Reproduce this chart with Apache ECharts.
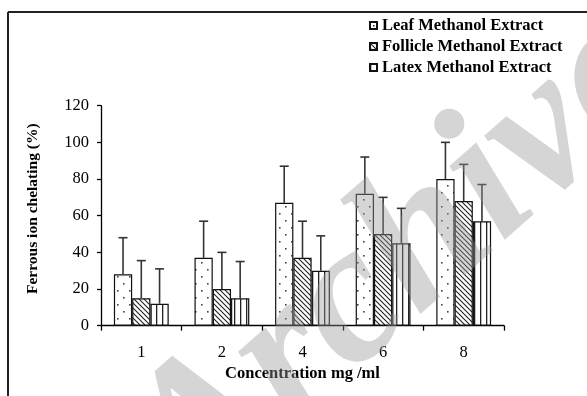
<!DOCTYPE html>
<html><head><meta charset="utf-8">
<script src="https://cdn.jsdelivr.net/npm/echarts@6/dist/echarts.min.js"></script>
<style>html,body{margin:0;padding:0;background:#fff}#c{width:587px;height:396px}</style>
</head><body><div id="c"></div>
<script>
const categories = ['1', '2', '4', '6', '8'];
const seriesNames = ['Leaf Methanol Extract', 'Follicle Methanol Extract', 'Latex Methanol Extract'];
const leafValues = [28, 37, 67, 72, 80];
const follicleValues = [15, 20, 37, 50, 68];
const latexValues = [12, 15, 30, 45, 57];
const leafErrors = [20, 20, 20, 20, 20];
const follicleErrors = [20.5, 20, 20, 20, 20];
const latexErrors = [19, 20, 19, 19, 20];
const yTicks = [0, 20, 40, 60, 80, 100, 120];
const watermarkText = 'Archive';

const FONT = '"Liberation Serif", "Times New Roman", serif';
const CAT_GAP = 0.32;

function makePattern(kind) {
  const c = document.createElement('canvas');
  const ctx = c.getContext('2d');
  if (kind === 'dots') {
    c.width = 12; c.height = 14;
    ctx.fillStyle = '#fff'; ctx.fillRect(0, 0, 12, 14);
    ctx.fillStyle = '#444';
    ctx.fillRect(3, 3, 1.6, 1.6);
    ctx.fillRect(9, 10, 1.6, 1.6);
  } else if (kind === 'hatch') {
    c.width = 5; c.height = 5;
    ctx.fillStyle = '#fff'; ctx.fillRect(0, 0, 5, 5);
    ctx.strokeStyle = '#222'; ctx.lineWidth = 1.1;
    ctx.beginPath();
    ctx.moveTo(-1, -1); ctx.lineTo(6, 6);
    ctx.moveTo(-1, 4); ctx.lineTo(1, 6);
    ctx.moveTo(4, -1); ctx.lineTo(6, 1);
    ctx.stroke();
  } else {
    c.width = 6; c.height = 4;
    ctx.fillStyle = '#fff'; ctx.fillRect(0, 0, 6, 4);
    ctx.fillStyle = '#222'; ctx.fillRect(0, 0, 1.3, 4);
  }
  return { image: c, repeat: 'repeat' };
}

const patterns = [makePattern('dots'), makePattern('hatch'), makePattern('vlines')];
const values = [leafValues, follicleValues, latexValues];
const errors = [leafErrors, follicleErrors, latexErrors];

const barSeries = seriesNames.map((name, k) => ({
  name: name,
  type: 'bar',
  data: values[k],
  barGap: '0%',
  barCategoryGap: (CAT_GAP * 100) + '%',
  itemStyle: { color: patterns[k], borderColor: '#111', borderWidth: 1.2 },
  emphasis: { disabled: true },
  z: 2
}));

const errSeries = seriesNames.map((name, k) => ({
  type: 'custom',
  name: name + ' error',
  data: values[k].map((v, i) => [i, v, v + errors[k][i]]),
  encode: { x: 0, y: [1, 2] },
  z: 3,
  silent: true,
  renderItem: function (params, api) {
    const i = api.value(0);
    const base = api.coord([i, api.value(1)]);
    const top = api.coord([i, api.value(2)]);
    const band = api.size([1, 0])[0];
    const bw = band * (1 - CAT_GAP) / 3;
    const x = base[0] + (k - 1) * bw;
    const st = { stroke: '#333', lineWidth: 1.6 };
    return {
      type: 'group',
      children: [
        { type: 'line', shape: { x1: x, y1: base[1], x2: x, y2: top[1] }, style: st },
        { type: 'line', shape: { x1: x - 4.5, y1: top[1], x2: x + 4.5, y2: top[1] }, style: st }
      ]
    };
  }
}));

const chart = echarts.init(document.getElementById('c'), null, { renderer: 'canvas' });
chart.setOption({
  animation: false,
  backgroundColor: '#fff',
  grid: { left: 101, right: 83, top: 105.7, bottom: 70.3, containLabel: false },
  legend: {
    data: seriesNames,
    orient: 'vertical',
    left: 369,
    top: 17,
    padding: 0,
    icon: 'rect',
    itemWidth: 7,
    itemHeight: 7,
    itemGap: 4,
    textStyle: { fontFamily: FONT, fontWeight: 'bold', fontSize: 16.5, lineHeight: 16, color: '#000' }
  },
  xAxis: {
    type: 'category',
    data: categories,
    name: 'Concentration mg /ml',
    nameLocation: 'middle',
    nameGap: 39,
    nameTextStyle: { fontFamily: FONT, fontWeight: 'bold', fontSize: 16.5, color: '#000' },
    axisLine: { lineStyle: { color: '#000', width: 1.3 } },
    axisTick: { show: true, length: 5, lineStyle: { color: '#000', width: 1.3 } },
    axisLabel: { fontFamily: FONT, fontSize: 16.5, color: '#000', margin: 18 }
  },
  yAxis: {
    type: 'value',
    min: yTicks[0],
    max: yTicks[yTicks.length - 1],
    interval: yTicks[1] - yTicks[0],
    name: 'Ferrous ion chelating (%)',
    nameLocation: 'middle',
    nameRotate: 90,
    nameGap: 60,
    nameTextStyle: { fontFamily: FONT, fontWeight: 'bold', fontSize: 15.5, color: '#000', padding: [0, 0, 0, 14] },
    axisLine: { show: true, lineStyle: { color: '#000', width: 1.3 } },
    axisTick: { show: true, length: 4, lineStyle: { color: '#000', width: 1.3 } },
    splitLine: { show: false },
    axisLabel: { fontFamily: FONT, fontSize: 16.5, color: '#000', margin: 12 }
  },
  graphic: [
    { type: 'line', shape: { x1: 8, y1: 12, x2: 587, y2: 12 }, style: { stroke: '#222', lineWidth: 2 }, z: 10 },
    { type: 'line', shape: { x1: 8, y1: 12, x2: 8, y2: 396 }, style: { stroke: '#222', lineWidth: 2 }, z: 10 },
    {
      type: 'text', x: 400, y: 263, rotation: 0.72, z: 100, silent: true,
      style: {
        text: watermarkText, fontFamily: FONT, fontStyle: 'italic', fontWeight: 'bold', fontSize: 200,
        fill: 'rgba(150,150,150,0.4)', align: 'center', verticalAlign: 'middle'
      }
    }
  ],
  series: barSeries.concat(errSeries)
});
</script>
</body></html>
